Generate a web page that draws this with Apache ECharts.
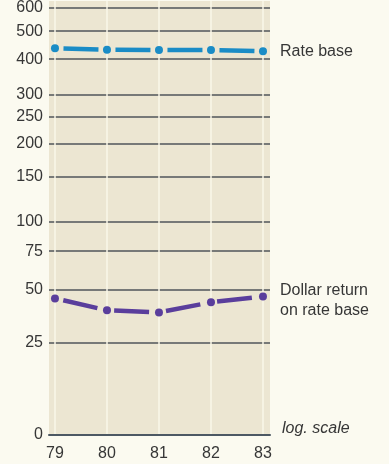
<!DOCTYPE html>
<html>
<head>
    <meta charset="utf-8">
    <title>Rate base</title>
    <script src="https://cdn.jsdelivr.net/npm/echarts@6.0.0/dist/echarts.min.js"></script>
    <style>
        html, body { margin: 0; padding: 0; background: #fbfaf0; }
        #grafico { width: 389px; height: 464px; }
    </style>
</head>
<body>
    <div id="grafico"></div>
    <script>
        // Datos
        const years = [79, 80, 81, 82, 83];
        const rateBase = [436, 431, 430, 430, 426];
        const dollarReturn = [45, 39, 38, 43, 46];
        const yTicks = [0, 25, 50, 75, 100, 150, 200, 250, 300, 400, 500, 600];

        // the printed scale behaves like log(v + 25)
        const SHIFT = 25;
        const toAxis = v => v + SHIFT;

        const chart = echarts.init(document.getElementById('grafico'), null, { renderer: 'canvas' });

        const textColor = '#363636';
        const font = '"Liberation Sans", Arial, sans-serif';

        function serie(name, values, color, label, offset) {
            return {
                name: name,
                type: 'line',
                data: years.map((y, i) => [y, toAxis(values[i])]),
                symbol: 'circle',
                symbolSize: 8,
                showAllSymbol: true,
                itemStyle: { color: color },
                lineStyle: {
                    color: color,
                    width: 4.5,
                    // gap, dash, gap between two dots
                    type: [0, 8.5, 35, 8.5],
                    cap: 'butt'
                },
                endLabel: {
                    show: true,
                    formatter: label,
                    distance: 17,
                    offset: offset,
                    color: textColor,
                    fontFamily: font,
                    fontSize: 16,
                    lineHeight: 20,
                    align: 'left'
                },
                emphasis: { disabled: true },
                z: 5
            };
        }

        chart.setOption({
            backgroundColor: '#fbfaf0',
            animation: false,
            grid: {
                left: 49,
                right: 119,
                top: 0,
                bottom: 29,
                show: true,
                backgroundColor: '#ece6d2',
                borderWidth: 0
            },
            xAxis: {
                type: 'value',
                min: 78.885,
                max: 83.135,
                name: 'log. scale',
                nameLocation: 'end',
                nameGap: 12,
                nameTextStyle: {
                    color: textColor,
                    fontFamily: font,
                    fontSize: 16,
                    fontStyle: 'italic',
                    verticalAlign: 'bottom',
                    lineHeight: 12
                },
                axisLine: { show: true, lineStyle: { color: '#4d5863', width: 2 } },
                axisTick: { show: false, customValues: years },
                axisLabel: {
                    customValues: years,
                    color: textColor,
                    fontFamily: font,
                    fontSize: 16,
                    margin: 11
                },
                splitLine: { show: true, lineStyle: { color: '#faf7e8', width: 1.5 } }
            },
            yAxis: {
                type: 'log',
                logBase: 10,
                min: toAxis(0),
                max: 659,
                axisLine: { show: false },
                axisTick: { show: false, customValues: yTicks.map(toAxis) },
                axisLabel: {
                    customValues: yTicks.map(toAxis),
                    formatter: v => String(Math.round(v - SHIFT)),
                    color: textColor,
                    fontFamily: font,
                    fontSize: 16,
                    margin: 6
                },
                splitLine: { show: true, lineStyle: { color: '#50555a', width: 1.6 } }
            },
            series: [
                serie('Rate base', rateBase, '#1a8cc6', 'Rate base', [0, 0]),
                serie('Dollar return on rate base', dollarReturn, '#5a3e9c', 'Dollar return\non rate base', [0, 4])
            ]
        });
    </script>
</body>
</html>
